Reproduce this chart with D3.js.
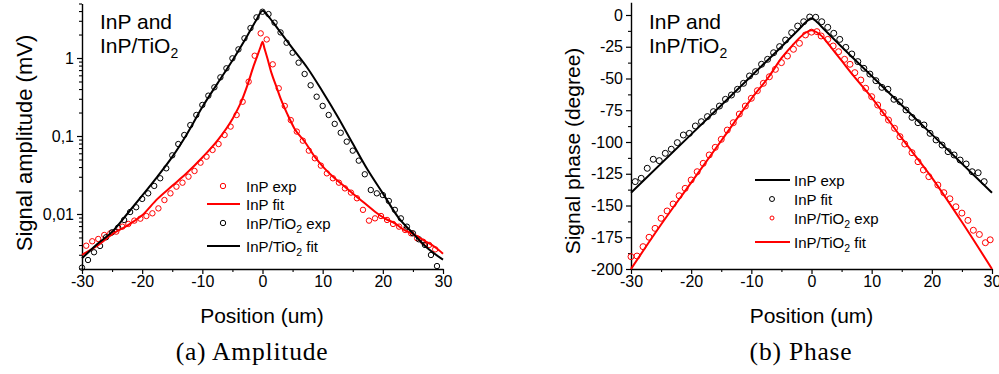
<!DOCTYPE html>
<html><head><meta charset="utf-8">
<script src="https://cdn.jsdelivr.net/npm/d3@7"></script>
<style>body{margin:0;background:#fff}svg{display:block}</style>
</head><body>
<svg id="c" width="999" height="374"></svg>
<script>
// ---------- DATA ----------
const posTickValues = [-30, -20, -10, 0, 10, 20, 30];
const posTickLabels = ["-30", "-20", "-10", "0", "10", "20", "30"];
const ampTickValues = [0.01, 0.1, 1];
const ampTickLabels = ["0,01", "0,1", "1"];
const phaseTickValues = [0, -25, -50, -75, -100, -125, -150, -175, -200];
const phaseTickLabels = ["0", "-25", "-50", "-75", "-100", "-125", "-150", "-175", "-200"];

// (a) Amplitude: InP exp (red circles)
const ampInPExpX = [-29.3,-28.3,-27.3,-26.3,-25.3,-24.3,-23.3,-22.3,-21.3,-20.3,-19.3,-18.3,-17.3,-16.3,-15.3,-14.3,-13.3,-12.3,-11.3,-10.3,-9.3,-8.3,-7.3,-6.3,-5.3,-4.3,-3.3,-2.3,-1.3,-0.3,
  0.7,1.7,2.7,3.7,4.7,5.7,6.7,7.7,8.7,9.7,10.7,11.7,12.7,13.7,14.7,15.7,16.7,17.7,18.7,19.7,20.7,21.7,22.7,23.7,24.7,25.7,26.7,27.7,28.7];
const ampInPExpY = [0.00392,0.00447,0.00478,0.00538,0.00565,0.00594,0.00688,0.00745,0.00822,0.00871,0.00942,0.0102,0.0118,0.0151,0.0184,0.0224,0.0252,0.0301,0.0356,0.0455,0.0543,0.0662,0.0789,0.103,0.132,0.186,0.275,0.497,1.07,2.07,
  1.73,0.83,0.409,0.243,0.160,0.114,0.0871,0.0649,0.0518,0.0417,0.0332,0.0287,0.0252,0.0213,0.0188,0.0159,0.0113,0.00822,0.00879,0.00942,0.00838,0.00745,0.00688,0.00624,0.00565,0.00488,0.00441,0.00401,0.00352];
// InP fit (red line)
const ampInPFitX = [-30,-27.5,-25,-22.5,-20,-17.5,-15,-12.5,-10,-7.5,-5,-3.5,-2.5,-1.5,-0.8,-0.3,0,0.3,0.8,1.5,2.3,3.1,4.2,5.3,7,8.7,10.3,12,13.7,15.3,17,18.7,20.3,22,23.6,25.3,27,28.6,30];
const ampInPFitY = [0.0030,0.0039,0.0055,0.0071,0.0096,0.0155,0.023,0.034,0.053,0.087,0.165,0.28,0.45,0.78,1.1,1.4,1.62,1.35,1.0,0.64,0.43,0.29,0.186,0.125,0.085,0.054,0.0385,0.0287,0.0224,0.0175,0.0137,0.0107,0.0088,0.0076,0.0062,0.0054,0.0045,0.0038,0.0031];
// InP/TiO2 exp (black circles)
const ampTiExpX = [-30,-29,-28,-27,-26,-25,-24,-23,-22,-21,-20,-19,-18,-17,-16,-15,-14,-13,-12,-11,-10,-9,-8,-7,-6,-5,-4,-3,-2,-1,0,
  1,2,3,4,5,6,7,8,9,10,11,12,13,14,15,16,17,18,19,20,21,22,23,24,25,26,27,28,29];
const ampTiExpY = [0.00205,0.00257,0.00323,0.00389,0.00503,0.00582,0.00668,0.00838,0.0106,0.0122,0.0156,0.0184,0.0229,0.0287,0.0385,0.0565,0.0789,0.103,0.138,0.186,0.250,0.329,0.421,0.565,0.738,0.99,1.29,1.79,2.42,3.32,3.92,
  3.66,2.84,2.13,1.57,1.17,0.871,0.624,0.447,0.319,0.243,0.186,0.143,0.110,0.0846,0.0649,0.0483,0.0323,0.0203,0.0184,0.0175,0.0147,0.0113,0.00879,0.00688,0.00565,0.00473,0.00401,0.00298,0.00215];
// InP/TiO2 fit (black line)
const ampTiFitX = [-30,-27.5,-25,-22.5,-20,-17.5,-15,-12.5,-10,-7.5,-5,-2.5,-1,0,1,2.5,5,7.5,10,12.5,15,17.5,20,22.5,25,27.5,30];
const ampTiFitY = [0.0027,0.0041,0.0059,0.0100,0.0172,0.030,0.054,0.108,0.235,0.47,0.93,1.95,3.1,4.05,3.4,2.4,1.33,0.74,0.37,0.177,0.080,0.0366,0.0184,0.0092,0.00565,0.0036,0.0026];

// (b) Phase: "InP exp" (black line)
const phBlackLineX = [-30,-20,-10,-5,-3,-2,-1,0,1,2,3,5,10,20,30];
const phBlackLineY = [-140,-94,-48,-25,-15.5,-10.8,-6,-2.5,-6,-10.8,-15.5,-25,-48,-94,-140];
// "InP fit" (black circles)
const phBlackPtsX = [-29.3,-28.3,-27.3,-26.3,-25.3,-24.3,-23.3,-22.3,-21.3,-20.3,-19.3,-18.3,-17.3,-16.3,-15.3,-14.3,-13.3,-12.3,-11.3,-10.3,-9.3,-8.3,-7.3,-6.3,-5.3,-4.3,-3.3,-2.3,-1.3,-0.3,
  0.7,1.7,2.7,3.7,4.7,5.7,6.7,7.7,8.7,9.7,10.7,11.7,12.7,13.7,14.7,15.7,16.7,17.7,18.7,19.7,20.7,21.7,22.7,23.7,24.7,25.7,26.7,27.7,28.7];
const phBlackPtsY = [-131.2,-128.6,-120.7,-113.6,-114.7,-108.9,-105.7,-100.5,-94.5,-93.2,-87.4,-84.0,-80.0,-76.1,-71.7,-66.4,-63.0,-58.5,-53.8,-48.0,-44.6,-38.8,-34.9,-29.7,-24.9,-19.7,-13.9,-8.7,-5.3,-1.6,
  -1.8,-5.3,-9.7,-14.4,-19.2,-25.5,-30.7,-36.7,-42.0,-46.5,-51.7,-57.0,-58.5,-66.4,-68.3,-74.8,-80.6,-84.8,-86.6,-93.2,-98.4,-102.4,-107.6,-110.2,-114.2,-117.3,-123.4,-124.2,-131.2];
// "InP/TiO2 exp" (red circles)
const phRedPtsX = [-30,-29,-28,-27,-26,-25,-24,-23,-22,-21,-20,-19,-18,-17,-16,-15,-14,-13,-12,-11,-10,-9,-8,-7,-6,-5,-4,-3,-2,-1,0,
  0.9,1.6,2.7,3.6,4.5,5.5,6.4,7.2,8.2,9.0,10.0,11.0,11.9,12.8,13.8,14.7,15.5,16.7,17.7,18.6,19.5,21.0,22.0,23.0,24.0,25.0,26.0,26.9,27.9,28.9,29.7];
const phRedPtsY = [-190.3,-189.8,-182.4,-175.0,-168.0,-160.1,-154.3,-148.8,-142.3,-136.5,-129.9,-123.4,-116.8,-110.2,-104.2,-97.9,-90.6,-84.8,-78.0,-71.7,-65.6,-59.6,-53.8,-48.6,-42.8,-37.5,-32.3,-27.0,-22.3,-15.7,-13.5,
  -13.1,-16.5,-19.2,-24.4,-28.9,-34.9,-38.8,-45.4,-51.2,-57.7,-64.3,-70.9,-76.9,-82.7,-89.2,-95.8,-101.6,-108.4,-115.5,-122.0,-127.3,-133.9,-139.9,-144.7,-151.0,-156.0,-161.7,-169.5,-172.8,-179.3,-177.0];
// "InP/TiO2 fit" (red line)
const phRedLineX = [-30,-25,-20,-15,-10,-7,-5,-3,-2,-1,0,1,2,3,5,7,10,15,20,25,30];
const phRedLineY = [-200,-165,-132,-99,-66,-48,-34,-23,-18,-14,-12,-14,-18,-24,-36,-48,-65,-97,-128,-163,-200];

// ---------- DRAW ----------
const SANS = "'Liberation Sans', Arial, sans-serif";
const SERIF = "'Liberation Serif', 'Times New Roman', serif";
const svg = d3.select("#c");
const zip = (xs, ys) => xs.map((x, i) => [x, ys[i]]);

function drawPanel(cfg) {
  const g = svg.append("g");
  const x = cfg.x, y = cfg.y;
  // x axis
  g.append("g").attr("transform", `translate(0,${cfg.bottom})`)
    .call(d3.axisBottom(x).tickValues(posTickValues).tickSize(5).tickSizeOuter(0)
      .tickFormat((d, i) => posTickLabels[i]))
    .call(a => a.select(".domain").attr("stroke-width", 1.4))
    .call(a => a.selectAll(".tick line").attr("stroke-width", 1.2))
    .call(a => a.selectAll("text").attr("font-family", SANS).attr("font-size", 16).attr("fill", "#000").attr("dy", "0.78em").attr("y", 6));
  g.append("g").attr("transform", `translate(0,${cfg.bottom})`)
    .call(d3.axisBottom(x).tickValues([-25, -15, -5, 5, 15, 25]).tickSize(3).tickFormat(""))
    .call(a => a.select(".domain").remove())
    .call(a => a.selectAll(".tick line").attr("stroke-width", 1.1));
  // y axis
  g.append("g").attr("transform", `translate(${cfg.left},0)`)
    .call(d3.axisLeft(y).tickValues(cfg.yTicks).tickSize(5).tickSizeOuter(0)
      .tickFormat((d, i) => cfg.yLabels[i]))
    .call(a => a.select(".domain").attr("stroke-width", 1.4))
    .call(a => a.selectAll(".tick line").attr("stroke-width", 1.2))
    .call(a => a.selectAll("text").attr("font-family", SANS).attr("font-size", 16).attr("fill", "#000").attr("x", -8));
  g.append("g").attr("transform", `translate(${cfg.left},0)`)
    .call(d3.axisLeft(y).tickValues(cfg.yMinor).tickSize(3).tickFormat(""))
    .call(a => a.select(".domain").remove())
    .call(a => a.selectAll(".tick line").attr("stroke-width", 1.1));
  // titles
  g.append("text").attr("x", cfg.cx).attr("y", 323).attr("text-anchor", "middle")
    .attr("font-family", SANS).attr("font-size", 21).text("Position (um)");
  g.append("text").attr("transform", `translate(${cfg.ylabX},${cfg.ylabY}) rotate(-90)`)
    .attr("text-anchor", "middle").attr("font-family", SANS).attr("font-size", cfg.ylabSize).text(cfg.ylab);
  g.append("text").attr("x", cfg.capX).attr("y", 360).attr("text-anchor", "middle")
    .attr("font-family", SERIF).attr("font-size", 25.5).attr("letter-spacing", 0.8).text(cfg.caption);
  // annotation
  const ann = g.append("g").attr("font-family", SANS).attr("font-size", 21);
  ann.append("text").attr("x", cfg.left + 18).attr("y", 29).text("InP and");
  const t2 = ann.append("text").attr("x", cfg.left + 18).attr("y", 53);
  t2.append("tspan").text("InP/TiO");
  t2.append("tspan").attr("font-size", 14).attr("dy", 5).text("2");
  return g;
}

function drawLine(g, x, y, xs, ys, color) {
  g.append("path").datum(zip(xs, ys))
    .attr("fill", "none").attr("stroke", color).attr("stroke-width", 2)
    .attr("stroke-linejoin", "round")
    .attr("d", d3.line().x(d => x(d[0])).y(d => y(d[1])).curve(d3.curveMonotoneX));
}
function drawPts(g, x, y, xs, ys, color, r) {
  g.append("g").selectAll("circle").data(zip(xs, ys)).join("circle")
    .attr("cx", d => x(d[0])).attr("cy", d => y(d[1])).attr("r", r)
    .attr("fill", "none").attr("stroke", color).attr("stroke-width", 1);
}
function legendText(g, tx, cy, base, sub, rest) {
  const t = g.append("text").attr("x", tx).attr("y", cy + 5.5)
    .attr("font-family", SANS).attr("font-size", 15).attr("fill", "#000");
  t.append("tspan").text(base);
  if (sub) {
    t.append("tspan").attr("font-size", 10.5).attr("dy", 4).text(sub);
    t.append("tspan").attr("dy", -4).text(rest);
  }
}

// ---- Panel (a) ----
const xa = d3.scaleLinear().domain([-30, 30]).range([82, 443]);
const ya = d3.scaleLog().domain([0.002, 5]).range([268.5, 3.5]);
const ampMinor = [];
[0.001, 0.01, 0.1, 1].forEach(dec => { for (let k = 2; k <= 9; k++) { const v = dec * k; if (v >= 0.002 && v <= 5.0001) ampMinor.push(v); } });
const ga = drawPanel({ x: xa, y: ya, left: 82, bottom: 269, yTicks: ampTickValues, yLabels: ampTickLabels, yMinor: ampMinor,
  cx: 262, capX: 252, ylab: "Signal amplitude (mV)", ylabX: 32, ylabY: 143, ylabSize: 22, caption: "(a) Amplitude" });
drawPts(ga, xa, ya, ampInPExpX, ampInPExpY, "#ff0000", 2.7);
drawPts(ga, xa, ya, ampTiExpX, ampTiExpY, "#000", 2.7);
drawLine(ga, xa, ya, ampInPFitX, ampInPFitY, "#ff0000");
drawLine(ga, xa, ya, ampTiFitX, ampTiFitY, "#000");
// legend (a)
ga.append("circle").attr("cx", 223).attr("cy", 186).attr("r", 2.7).attr("fill", "none").attr("stroke", "#ff0000");
legendText(ga, 246, 186, "InP exp");
ga.append("line").attr("x1", 207).attr("x2", 240).attr("y1", 204).attr("y2", 204).attr("stroke", "#ff0000").attr("stroke-width", 2);
legendText(ga, 246, 204, "InP fit");
ga.append("circle").attr("cx", 223).attr("cy", 223).attr("r", 2.7).attr("fill", "none").attr("stroke", "#000");
legendText(ga, 246, 223, "InP/TiO", "2", " exp");
ga.append("line").attr("x1", 207).attr("x2", 240).attr("y1", 246).attr("y2", 246).attr("stroke", "#000").attr("stroke-width", 2);
legendText(ga, 246, 246, "InP/TiO", "2", " fit");

// ---- Panel (b) ----
const xb = d3.scaleLinear().domain([-30, 30]).range([631, 992]);
const yb = d3.scaleLinear().domain([-200, 10]).range([269, 2.3]);
const phMinor = d3.range(-187.5, 10, 25);
const gb = drawPanel({ x: xb, y: yb, left: 631, bottom: 269, yTicks: phaseTickValues, yLabels: phaseTickLabels, yMinor: phMinor,
  cx: 811.5, capX: 801, ylab: "Signal phase (degree)", ylabX: 580, ylabY: 151, ylabSize: 21, caption: "(b) Phase" });
drawPts(gb, xb, yb, phBlackPtsX, phBlackPtsY, "#000", 3);
drawPts(gb, xb, yb, phRedPtsX, phRedPtsY, "#ff0000", 3);
drawLine(gb, xb, yb, phBlackLineX, phBlackLineY, "#000");
drawLine(gb, xb, yb, phRedLineX, phRedLineY, "#ff0000");
// legend (b)
gb.append("line").attr("x1", 755).attr("x2", 790).attr("y1", 180).attr("y2", 180).attr("stroke", "#000").attr("stroke-width", 2);
legendText(gb, 794, 180, "InP exp");
gb.append("circle").attr("cx", 772).attr("cy", 199).attr("r", 2.5).attr("fill", "none").attr("stroke", "#000");
legendText(gb, 794, 199, "InP fit");
gb.append("circle").attr("cx", 772).attr("cy", 218).attr("r", 2).attr("fill", "none").attr("stroke", "#ff0000");
legendText(gb, 794, 218, "InP/TiO", "2", " exp");
gb.append("line").attr("x1", 755).attr("x2", 790).attr("y1", 242).attr("y2", 242).attr("stroke", "#ff0000").attr("stroke-width", 2);
legendText(gb, 794, 242, "InP/TiO", "2", " fit");
</script>
</body></html>
